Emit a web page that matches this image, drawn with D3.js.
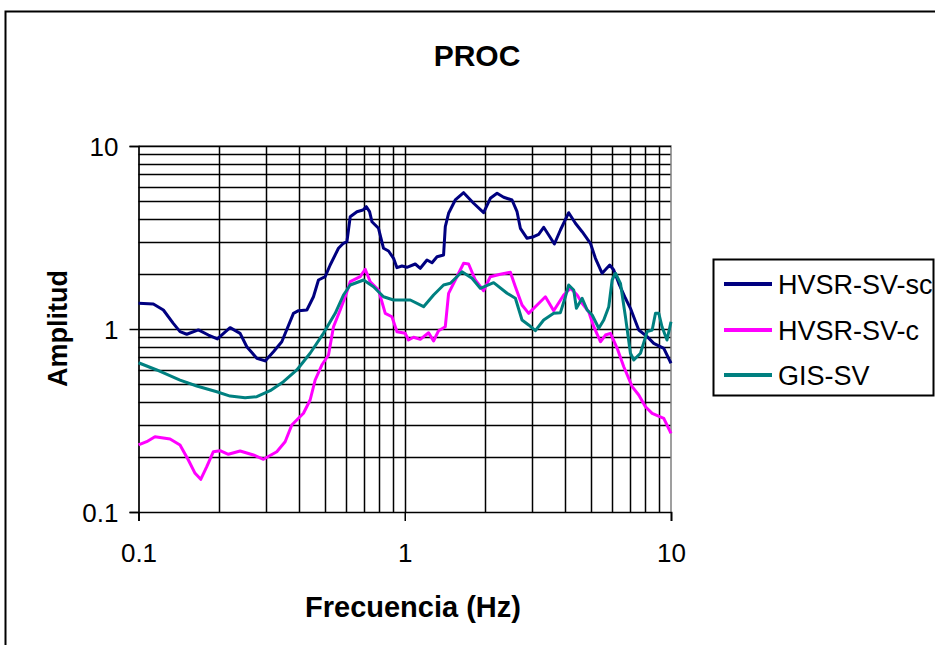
<!DOCTYPE html>
<html><head><meta charset="utf-8">
<script src="https://cdn.jsdelivr.net/npm/d3@7"></script>
<style>body{margin:0;background:#fff}svg{display:block}text{font-family:"Liberation Sans",Arial,sans-serif}</style>
</head><body>
<svg id="c" width="935" height="645"></svg>
<script>
const title = "PROC";
const xLabel = "Frecuencia (Hz)";
const yLabel = "Amplitud";
const xTicks = [0.1, 1, 10];
const yTicks = [0.1, 1, 10];
const tickLabels = ["0.1", "1", "10"];
const seriesNames = ["HVSR-SV-sc", "HVSR-SV-c", "GIS-SV"];
const seriesColors = ["#000080", "#FF00FF", "#008080"];

const freqSC = [0.1,0.1137,0.124,0.1351,0.1432,0.1518,0.1678,0.183,0.1978,0.2208,0.2408,0.2551,0.2782,0.299,0.3213,0.3453,0.3819,0.3989,0.4289,0.4541,0.4742,0.5025,0.5247,0.5637,0.5886,0.6064,0.624,0.6612,0.6966,0.7168,0.7376,0.753,0.797,0.8323,0.8692,0.9077,0.9348,0.9761,1.019,1.095,1.144,1.212,1.266,1.322,1.399,1.42,1.461,1.548,1.664,1.814,1.978,2.096,2.222,2.352,2.529,2.641,2.718,2.88,3.05,3.184,3.325,3.472,3.648,3.843,4.128,4.375,4.637,4.982,5.202,5.512,5.888,6.095,6.365,6.743,7.041,7.566,8.138,8.617,9.395,10];
const ampSC = [1.381,1.369,1.27,1.074,0.967,0.936,0.988,0.927,0.882,1.017,0.947,0.8,0.692,0.669,0.751,0.852,1.218,1.259,1.27,1.501,1.853,1.931,2.237,2.761,2.94,3.0,4.108,4.375,4.47,4.659,4.375,3.857,3.55,2.761,2.669,2.434,2.163,2.21,2.174,2.266,2.146,2.383,2.303,2.484,2.537,3.624,4.288,5.07,5.557,4.864,4.32,5.18,5.515,5.245,5.07,4.375,3.55,3.13,3.194,3.292,3.596,3.264,2.914,3.475,4.32,3.781,3.402,2.94,2.434,2.016,2.237,2.101,1.777,1.472,1.297,0.988,0.908,0.835,0.784,0.65];

const freqC = [0.1,0.1073,0.1153,0.1314,0.1432,0.1539,0.1631,0.1713,0.1805,0.1911,0.2025,0.2175,0.2408,0.2702,0.2946,0.3307,0.3554,0.3765,0.4165,0.4412,0.4608,0.4882,0.5171,0.54,0.5722,0.5975,0.624,0.6804,0.7105,0.7419,0.797,0.8449,0.8952,0.9348,1.004,1.033,1.079,1.144,1.229,1.283,1.34,1.42,1.461,1.548,1.664,1.737,1.841,1.978,2.096,2.286,2.493,2.603,2.757,2.92,3.141,3.375,3.626,3.954,4.191,4.441,4.637,4.909,5.128,5.433,5.673,5.925,6.278,6.647,7.148,7.566,8.019,8.498,9.395,10];
const ampC = [0.2324,0.2422,0.2579,0.2506,0.2324,0.1924,0.1627,0.1509,0.1768,0.2136,0.2163,0.2067,0.2154,0.2049,0.1941,0.2136,0.2422,0.2988,0.3463,0.4093,0.5264,0.6356,0.721,1.029,1.27,1.501,1.813,1.931,2.12,1.813,1.634,1.218,1.167,0.967,0.947,0.871,0.901,0.878,0.954,0.86,0.979,1.029,1.567,1.853,2.286,2.266,1.853,1.619,1.931,1.99,2.041,1.703,1.352,1.218,1.352,1.501,1.259,1.534,1.669,1.534,1.381,1.243,1.029,0.852,0.927,0.947,0.784,0.622,0.484,0.436,0.376,0.346,0.325,0.269];

const freqGIS = [0.1,0.1171,0.1432,0.1655,0.1968,0.2208,0.2514,0.2782,0.3122,0.3503,0.3933,0.4412,0.495,0.548,0.5886,0.624,0.7003,0.7633,0.8323,0.9077,1.049,1.177,1.283,1.399,1.483,1.641,1.789,1.922,2.157,2.423,2.603,2.757,2.92,3.095,3.325,3.626,3.843,4.012,4.128,4.312,4.413,4.637,4.842,5.057,5.355,5.591,5.838,6.011,6.186,6.459,6.743,7.041,7.249,7.68,8.138,8.498,8.745,8.998,9.252,9.661,10];
const ampGIS = [0.654,0.597,0.526,0.488,0.454,0.43,0.421,0.427,0.46,0.515,0.597,0.737,0.947,1.218,1.534,1.739,1.853,1.703,1.501,1.44,1.44,1.324,1.534,1.739,1.777,2.056,1.892,1.669,1.791,1.567,1.472,1.12,1.052,0.979,1.12,1.218,1.228,1.501,1.739,1.634,1.297,1.472,1.27,1.192,1.009,1.12,1.324,1.853,2.016,1.777,1.167,0.737,0.677,0.737,0.967,0.988,1.218,1.218,1.029,0.871,1.096];

const series = [
  {name: seriesNames[0], color: seriesColors[0], f: freqSC, a: ampSC},
  {name: seriesNames[1], color: seriesColors[1], f: freqC, a: ampC},
  {name: seriesNames[2], color: seriesColors[2], f: freqGIS, a: ampGIS}
];

const svg = d3.select("#c");
svg.append("rect").attr("width",935).attr("height",645).attr("fill","#fff");
// outer chart frame
svg.append("rect").attr("x",5.5).attr("y",11.5).attr("width",960).attr("height",700)
  .attr("fill","none").attr("stroke","#000").attr("stroke-width",2);

const X0 = 138.5, X1 = 671, Y0 = 512, Y1 = 146;
const x = d3.scaleLog().domain([0.1,10]).range([X0,X1]);
const y = d3.scaleLog().domain([0.1,10]).range([Y0,Y1]);

const minor = [];
[0.1,1].forEach(d => { for (let k=2;k<=9;k++) minor.push(+(d*k).toPrecision(3)); });
const allGrid = [0.1, ...minor, 1, 10].sort((a,b)=>a-b);
const snap = v => Math.round(v) + 0.5;

const g = svg.append("g");
g.selectAll(".vg").data(allGrid.filter(v=>v>0.1 && v<10)).enter().append("line")
  .attr("x1",d=>snap(x(d))).attr("x2",d=>snap(x(d))).attr("y1",Y0).attr("y2",Y1)
  .attr("stroke","#000").attr("stroke-width",1.5);
g.selectAll(".hg").data(allGrid.filter(v=>v>0.1 && v<10)).enter().append("line")
  .attr("y1",d=>snap(y(d))).attr("y2",d=>snap(y(d))).attr("x1",X0).attr("x2",X1)
  .attr("stroke","#000").attr("stroke-width",1.5);
g.append("path").attr("d",`M${X0},${Y1}H${X1}V${Y0}`).attr("fill","none")
  .attr("stroke","#808080").attr("stroke-width",1.5);
g.append("line").attr("x1",X0).attr("x2",X1).attr("y1",snap(y(10))).attr("y2",snap(y(10)))
  .attr("stroke","#000").attr("stroke-width",1.5);

const xAxis = d3.axisBottom(x).tickValues(xTicks).tickSize(9).tickFormat((d,i)=>tickLabels[i]);
const yAxis = d3.axisLeft(y).tickValues(yTicks).tickSize(9).tickFormat((d,i)=>tickLabels[i]);
const gx = svg.append("g").attr("transform",`translate(0,${Y0})`).call(xAxis);
const gy = svg.append("g").attr("transform",`translate(${X0},0)`).call(yAxis);
[gx,gy].forEach(a=>{
  a.select(".domain").attr("stroke","#000").attr("stroke-width",1.7);
  a.selectAll(".tick line").attr("stroke","#000").attr("stroke-width",1.5);
  a.selectAll("text").attr("fill","#000").style("font-size","26px").style("font-family",'"Liberation Sans",Arial,sans-serif');
});
gx.selectAll("text").attr("y",null).attr("dy",null).attr("transform","translate(0,50)");
gy.selectAll("text").attr("x",-20).attr("dy","0.35em");

const line = d3.line().x(d=>x(d[0])).y(d=>y(d[1]));
series.forEach(s=>{
  const pts = s.f.map((f,i)=>[f, s.a[i]]);
  svg.append("path").datum(pts).attr("d",line).attr("fill","none")
    .attr("stroke",s.color).attr("stroke-width",3).attr("stroke-linejoin","round");
});

svg.append("text").attr("x",477).attr("y",66).attr("text-anchor","middle")
  .style("font-size","30px").style("font-weight","bold").text(title);
svg.append("text").attr("x",413).attr("y",617).attr("text-anchor","middle")
  .style("font-size","29px").style("font-weight","bold").text(xLabel);
svg.append("text").attr("transform","translate(67,328.5) rotate(-90)").attr("text-anchor","middle")
  .style("font-size","27px").style("font-weight","bold").text(yLabel);

const lg = svg.append("g");
lg.append("rect").attr("x",713.5).attr("y",259.5).attr("width",220).attr("height",136)
  .attr("fill","#fff").attr("stroke","#000").attr("stroke-width",2);
const legY = [284, 330, 375];
series.forEach((s,i)=>{
  lg.append("line").attr("x1",724).attr("x2",772).attr("y1",legY[i]).attr("y2",legY[i])
    .attr("stroke",s.color).attr("stroke-width",4);
  lg.append("text").attr("x",778).attr("y",legY[i]+10).style("font-size","27px").text(s.name);
});
</script>
</body></html>
